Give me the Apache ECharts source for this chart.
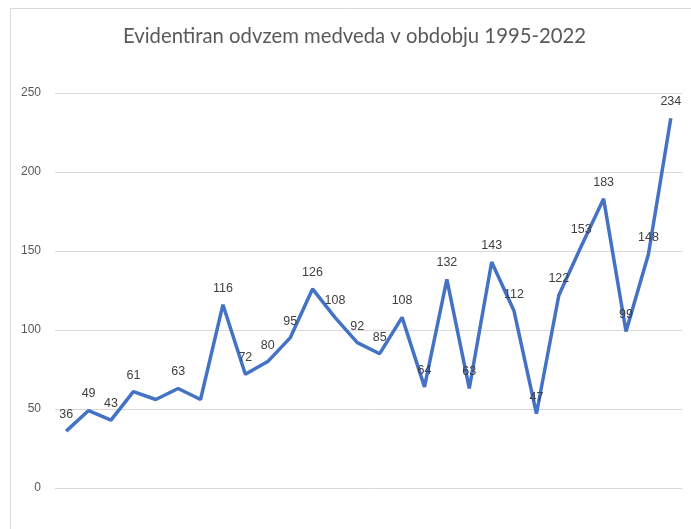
<!DOCTYPE html>
<html>
<head>
<meta charset="utf-8">
<script src="https://cdn.jsdelivr.net/npm/echarts@6/dist/echarts.min.js"></script>
<style>
  html, body { margin: 0; padding: 0; background: #fff; }
  #chart { width: 691px; height: 529px; }
</style>
</head>
<body>
<div id="chart"></div>
<script>
// leta 1995-2022
const years = ['1995', '1996', '1997', '1998', '1999', '2000', '2001', '2002', '2003', '2004',
  '2005', '2006', '2007', '2008', '2009', '2010', '2011', '2012', '2013', '2014',
  '2015', '2016', '2017', '2018', '2019', '2020', '2021', '2022'];
// evidentiran odvzem
const odvzem = [36, 49, 43, 61, 56, 63, 56, 116, 72, 80,
  95, 126, 108, 92, 85, 108, 64, 132, 63, 143,
  112, 47, 122, 153, 183, 99, 148, 234];
// labels shown above the line (two points have none in the original)
const hideLabel = [4, 6];

const chart = echarts.init(document.getElementById('chart'));

chart.setOption({
  animation: false,
  title: {
    text: 'Evidentiran odvzem medveda v obdobju 1995-2022',
    left: 118,
    top: 21,
    textStyle: { fontFamily: 'Lato', fontSize: 20.3, fontWeight: 'normal', color: '#595959' }
  },
  graphic: [{
    type: 'rect',
    shape: { x: 10.5, y: 8.5, width: 700, height: 540 },
    style: { fill: 'none', stroke: '#d9d9d9', lineWidth: 1 },
    silent: true
  }],
  grid: { left: 55, right: 9, top: 93, bottom: 41 },
  xAxis: {
    type: 'category',
    data: years,
    boundaryGap: true,
    axisLine: { show: false },
    axisTick: { show: false },
    axisLabel: { show: false }
  },
  yAxis: {
    type: 'value',
    min: 0,
    max: 250,
    interval: 50,
    axisLabel: { color: '#595959', fontSize: 12, fontFamily: 'Liberation Sans', margin: 14 },
    splitLine: { lineStyle: { color: '#d9d9d9', width: 1 } }
  },
  series: [{
    type: 'line',
    data: odvzem.map((v, i) => hideLabel.includes(i) ? { value: v, label: { show: false } } : v),
    symbol: 'circle',
    symbolSize: 0.1,
    lineStyle: { color: '#4472C4', width: 3.5 },
    itemStyle: { color: '#4472C4' },
    label: {
      show: true,
      position: 'top',
      distance: 10,
      color: '#404040',
      fontSize: 12.5,
      fontFamily: 'Liberation Sans'
    }
  }]
});
</script>
</body>
</html>
